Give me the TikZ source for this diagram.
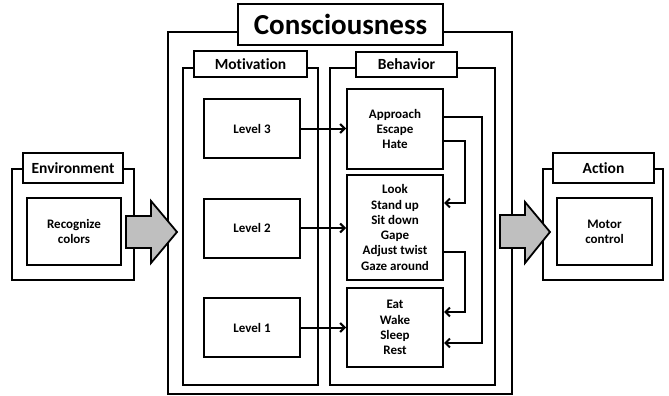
\documentclass[tikz,border=0pt]{standalone}
\usepackage{fontspec}
\setmainfont{Carlito}[Ligatures=NoCommon]
\usetikzlibrary{arrows.meta}
\begin{document}
\begin{tikzpicture}[x=1pt,y=-1pt,
  box/.style={draw=black, line width=2pt, fill=white, inner sep=0pt, align=center,
    font=\fontsize{13}{15.3}\selectfont\bfseries},
  frame/.style={draw=black, line width=2pt, inner sep=0pt},
  ttl/.style={box, font=\fontsize{15.5}{18}\selectfont\bfseries},
  conn/.style={draw=black, line width=2pt, -{Straight Barb[length=4.5pt,width=9pt,line width=2pt]}},
  block/.style={draw=black, line width=1.8pt, fill=gray!50, line join=miter}]
\useasboundingbox (0,0) rectangle (669,396);
% outer frames
\node[frame, minimum width=344pt, minimum height=362pt] (consc) at (340,213) {};
\node[frame, minimum width=135pt, minimum height=317pt] (motiv) at (250.5,226.5) {};
\node[frame, minimum width=165pt, minimum height=317pt] (behav) at (412,226.5) {};
\node[frame, minimum width=122pt, minimum height=111pt] (env) at (73,224.5) {};
\node[frame, minimum width=120pt, minimum height=111pt] (act) at (603,224.5) {};
% titles
\node[box, font=\fontsize{29}{33}\selectfont\bfseries, minimum width=205pt, minimum height=41pt] (conscT) at (340.5,24.5) {Consciousness};
\node[ttl, minimum width=113pt, minimum height=26pt] (motivT) at (250.5,64) {Motivation};
\node[ttl, minimum width=101pt, minimum height=25pt] (behavT) at (406.5,64.5) {Behavior};
\node[ttl, minimum width=100pt, minimum height=30pt] (envT) at (73,168) {Environment};
\node[ttl, minimum width=101pt, minimum height=30pt] (actT) at (603.5,168) {Action};
% inner boxes
\node[box, minimum width=96pt, minimum height=59pt] (L3) at (252,128.5) {Level 3};
\node[box, minimum width=96pt, minimum height=59pt] (L2) at (252,228) {Level 2};
\node[box, minimum width=96pt, minimum height=59pt] (L1) at (252,327.5) {Level 1};
\node[box, minimum width=96pt, minimum height=80pt] (appr) at (395,129) {Approach\\Escape\\Hate};
\node[box, minimum width=96pt, minimum height=105pt] (look) at (395,227.5) {Look\\Stand up\\Sit down\\Gape\\Adjust twist\\Gaze around};
\node[box, minimum width=96pt, minimum height=79pt] (eat) at (395,327.5) {Eat\\Wake\\Sleep\\Rest};
\node[box, minimum width=94pt, minimum height=67pt] (recog) at (74,231.5) {Recognize\\colors};
\node[box, minimum width=95pt, minimum height=67pt] (motor) at (604.5,231.5) {Motor\\control};
% connectors
\draw[conn] (L3.east) -- (L3.east -| appr.west);
\draw[conn] (L2.east) -- (L2.east -| look.west);
\draw[conn] (L1.east) -- (L1.east -| eat.west);
\draw[conn] ([yshift=12pt]appr.east) -- ++(38pt,0) |- ([yshift=-15.5pt]eat.east);
\draw[conn] ([yshift=-12pt]appr.east) -- ++(21pt,0) |- ([yshift=24.5pt]look.east);
\draw[conn] ([yshift=-24.5pt]look.east) -- ++(21pt,0) |- ([yshift=15.5pt]eat.east);
% block arrows
\draw[block] (126,216) -- (151,216) -- (151,201) -- (177,232) -- (151,263) -- (151,248) -- (126,248) -- cycle;
\draw[block] (500,215) -- (525,215) -- (525,202) -- (550,232) -- (525,263) -- (525,248) -- (500,248) -- cycle;
\end{tikzpicture}
\end{document}
